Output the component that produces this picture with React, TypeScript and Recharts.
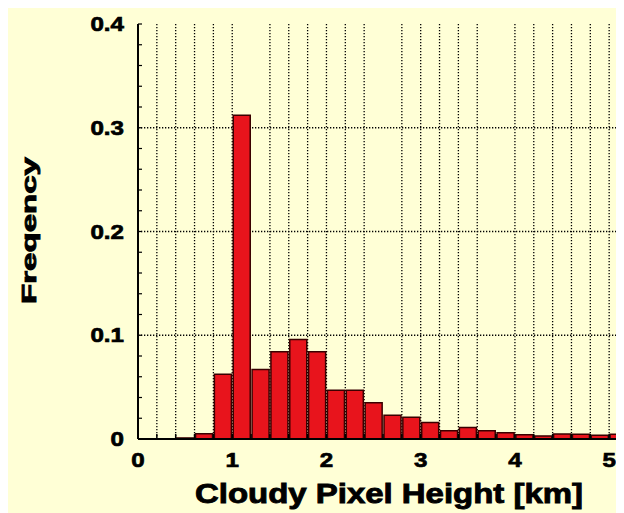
import { BarChart, Bar, XAxis, YAxis, CartesianGrid } from 'recharts';

// histogram bins (centre of each 0.2 km bin) and their frequencies
const binCenters = [
  0.5, 0.7, 0.9, 1.1, 1.3, 1.5, 1.7, 1.9, 2.1, 2.3, 2.5, 2.7,
  2.9, 3.1, 3.3, 3.5, 3.7, 3.9, 4.1, 4.3, 4.5, 4.7, 4.9, 5.1,
];
const frequency = [
  0.001, 0.005, 0.0625, 0.312, 0.067, 0.084, 0.096, 0.084, 0.047, 0.047, 0.035, 0.023,
  0.021, 0.016, 0.008, 0.011, 0.008, 0.006, 0.004, 0.003, 0.0048, 0.0045, 0.0035, 0.0045,
];

// axis ticks
const xTicks = [
  0, 0.2, 0.4, 0.6, 0.8, 1, 1.2, 1.4, 1.6, 1.8, 2, 2.2, 2.4, 2.6,
  2.8, 3, 3.2, 3.4, 3.6, 3.8, 4, 4.2, 4.4, 4.6, 4.8, 5, 5.2,
];
const xGridLines = [
  0.2, 0.4, 0.6, 0.8, 1, 1.4, 1.6, 1.8, 2, 2.2, 2.4, 2.8,
  3, 3.2, 3.4, 3.6, 4, 4.2, 4.4, 4.6, 4.8, 5,
];
const yTicks = Array.from({ length: 21 }, (_, i) => Math.round(i * 2) / 100);
const yGridLines = [0.1, 0.2, 0.3];

const data = binCenters.map((x, i) => ({ x, freq: frequency[i] }));

const FONT = '"Liberation Sans", Arial, Helvetica, sans-serif';
const BG = '#ffffd6';

function BottomTick({ x, y, payload }: any) {
  const v = payload.value;
  const isMajor = Math.abs(v - Math.round(v)) < 1e-6;
  return (
    <g>
      <line x1={x} y1={y} x2={x} y2={y - 5} stroke="#000" strokeWidth={1.5} />
      {isMajor && (
        <text
          transform={`translate(${x},${y + 28}) scale(1.15,1)`}
          textAnchor="middle"
          fontFamily={FONT}
          fontWeight="bold"
          fontSize={21}
          fill="#000"
          stroke="#000"
          strokeWidth={0.7}
        >
          {Math.round(v)}
        </text>
      )}
    </g>
  );
}

function TopTick({ x, y }: any) {
  return <line x1={x} y1={y} x2={x} y2={y + 5} stroke="#000" strokeWidth={1.5} />;
}

function LeftTick({ x, y, payload }: any) {
  const v = payload.value;
  const isMajor = Math.round(v * 100) % 10 === 0;
  const label = v === 0 ? '0' : v.toFixed(1);
  return (
    <g>
      <line x1={x} y1={y} x2={x + 4} y2={y} stroke="#000" strokeWidth={1.2} />
      {isMajor && (
        <text
          transform={`translate(${x - 14},${y + 7}) scale(1.15,1)`}
          textAnchor="end"
          fontFamily={FONT}
          fontWeight="bold"
          fontSize={21}
          fill="#000"
          stroke="#000"
          strokeWidth={0.7}
        >
          {label}
        </text>
      )}
    </g>
  );
}

function XTitle({ viewBox }: any) {
  const cx = viewBox.x + 251;
  return (
    <text
      x={cx}
      y={viewBox.y + 64}
      textAnchor="middle"
      fontFamily={FONT}
      fontWeight="bold"
      fontSize={28}
      textLength={388}
      lengthAdjust="spacingAndGlyphs"
      fill="#000"
      stroke="#000"
      strokeWidth={0.9}
    >
      Cloudy Pixel Height [km]
    </text>
  );
}

function YTitle({ viewBox }: any) {
  const cy = viewBox.y + viewBox.height / 2 - 1;
  return (
    <text
      transform={`translate(28,${cy}) rotate(-90)`}
      textAnchor="middle"
      fontFamily={FONT}
      fontWeight="bold"
      fontSize={21}
      textLength={147}
      lengthAdjust="spacingAndGlyphs"
      fill="#000"
      stroke="#000"
      strokeWidth={0.9}
    >
      Freqency
    </text>
  );
}

export default function App() {
  return (
    <div style={{ width: 616, height: 505, overflow: 'hidden', background: BG }}>
      <BarChart
        width={620}
        height={505}
        data={data}
        margin={{ top: 16, right: 0, bottom: 8, left: 70 }}
        style={{ background: BG }}
      >
        <CartesianGrid
          stroke="#000"
          strokeDasharray="1.3 1.7"
          strokeWidth={1.3}
          verticalValues={xGridLines}
          horizontalValues={yGridLines}
        />
        <XAxis
          dataKey="x"
          type="number"
          domain={[0, 5.2]}
          ticks={xTicks}
          interval={0}
          allowDataOverflow
          height={66}
          tickSize={0}
          tickMargin={0}
          tick={<BottomTick />}
          axisLine={{ stroke: '#000', strokeWidth: 2 }}
          label={<XTitle />}
        />
        <XAxis
          xAxisId="top"
          dataKey="x"
          type="number"
          orientation="top"
          domain={[0, 5.2]}
          ticks={xTicks}
          interval={0}
          allowDataOverflow
          height={0}
          tickSize={0}
          tickMargin={0}
          tick={<TopTick />}
          axisLine={{ stroke: '#000', strokeWidth: 2 }}
        />
        <YAxis
          type="number"
          domain={[0, 0.4]}
          ticks={yTicks}
          interval={0}
          width={60}
          tickSize={0}
          tickMargin={0}
          tick={<LeftTick />}
          axisLine={{ stroke: '#000', strokeWidth: 2 }}
          label={<YTitle />}
        />
        <Bar
          dataKey="freq"
          barSize={17}
          fill="#e8141c"
          stroke="#3a0000"
          strokeWidth={1.5}
          isAnimationActive={false}
        />
      </BarChart>
    </div>
  );
}
